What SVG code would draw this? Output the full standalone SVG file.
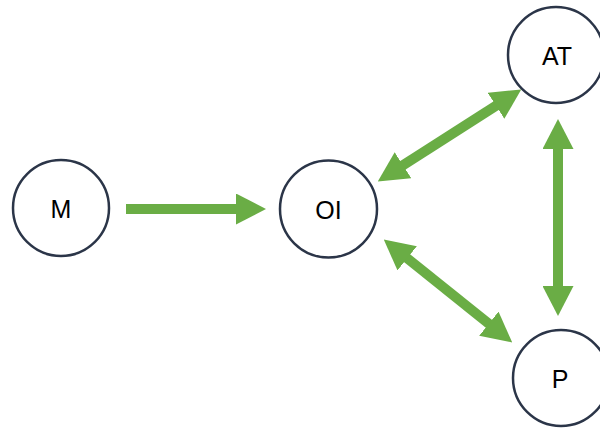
<svg xmlns="http://www.w3.org/2000/svg" width="600" height="428" viewBox="0 0 600 428">
  <style>
    .node circle { fill: #ffffff; stroke: #2b3548; stroke-width: 2.5; }
    .node text { font-family: "Liberation Sans", Arial, sans-serif; font-size: 25px; fill: #000000; text-anchor: middle; }
    .edge { stroke: #6aad45; stroke-width: 10; fill: none; }
  </style>
  <defs>
    <marker id="head" viewBox="0 0 30 31" refX="1" refY="15.5" markerWidth="30" markerHeight="31" markerUnits="userSpaceOnUse" orient="auto-start-reverse">
      <path d="M0,0 L30,15.5 L0,31 Z" fill="#6aad45"/>
    </marker>
  </defs>
  <rect width="600" height="428" fill="#ffffff"/>
  <g id="connectors">
    <line class="edge" x1="126" y1="209" x2="237" y2="209" marker-end="url(#head)"/>
    <line class="edge" x1="402.2" y1="165.8" x2="496.8" y2="105.2" marker-start="url(#head)" marker-end="url(#head)"/>
    <line class="edge" x1="558" y1="148" x2="558" y2="287" marker-start="url(#head)" marker-end="url(#head)"/>
    <line class="edge" x1="406.4" y1="257.7" x2="489.6" y2="324.3" marker-start="url(#head)" marker-end="url(#head)"/>
  </g>
  <g id="node-M" class="node">
    <circle cx="61" cy="208" r="48"/>
    <text x="61" y="218">M</text>
  </g>
  <g id="node-OI" class="node">
    <circle cx="328.5" cy="209" r="48.5"/>
    <text x="328.5" y="219">OI</text>
  </g>
  <g id="node-AT" class="node">
    <circle cx="556" cy="55" r="48"/>
    <text x="557" y="65">AT</text>
  </g>
  <g id="node-P" class="node">
    <circle cx="561" cy="378" r="48"/>
    <text x="560" y="388">P</text>
  </g>
</svg>
